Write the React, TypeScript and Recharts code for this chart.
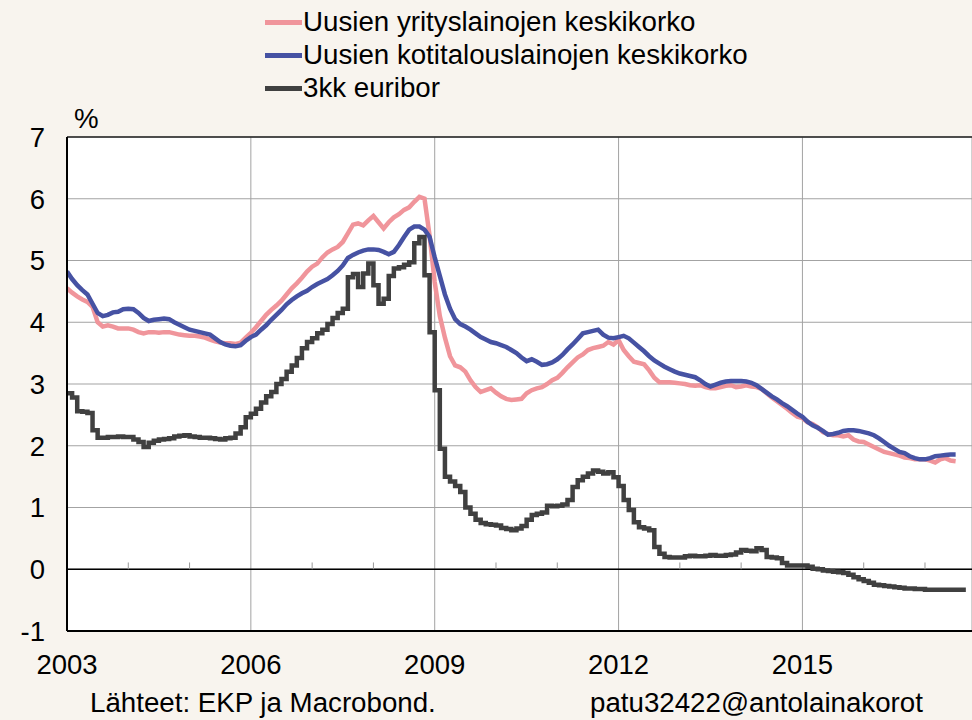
import React from 'react';
import { LineChart, Line, XAxis, YAxis, CartesianGrid, ReferenceLine } from 'recharts';

// monthly values, Jan 2003 onwards
const yritysLainat = [
  4.55, 4.48, 4.42, 4.37, 4.33, 4.25, 4.0, 3.93, 3.95, 3.93, 3.9, 3.9,
  3.9, 3.88, 3.84, 3.82, 3.84, 3.84, 3.83, 3.84, 3.84, 3.82, 3.8, 3.79,
  3.78, 3.78, 3.77, 3.75, 3.72, 3.69, 3.67, 3.66, 3.66, 3.65, 3.67, 3.75,
  3.83, 3.92, 4.02, 4.12, 4.2, 4.27, 4.35, 4.45, 4.55, 4.63, 4.72, 4.82,
  4.9, 4.95, 5.05, 5.13, 5.18, 5.22, 5.3, 5.44, 5.58, 5.6, 5.57, 5.65,
  5.72, 5.62, 5.52, 5.62, 5.7, 5.75, 5.82, 5.86, 5.95, 6.03, 6.0, 5.4,
  4.65, 4.1, 3.75, 3.45, 3.3, 3.27, 3.2, 3.06, 2.95, 2.87, 2.9, 2.93,
  2.86, 2.8, 2.76, 2.74, 2.75, 2.76, 2.85, 2.9, 2.93, 2.95, 3.0, 3.06,
  3.1, 3.18, 3.27, 3.35, 3.43, 3.48, 3.55, 3.58, 3.6, 3.62, 3.68, 3.64,
  3.71, 3.55, 3.45, 3.36, 3.34, 3.32, 3.22, 3.1, 3.03, 3.03, 3.03, 3.02,
  3.01, 3.0, 2.98, 2.97, 2.98, 2.95, 2.93, 2.93, 2.95, 2.97, 2.98, 2.95,
  2.96, 2.98, 2.96, 2.95, 2.92, 2.85, 2.78, 2.72, 2.66, 2.6, 2.53, 2.47,
  2.45, 2.38, 2.35, 2.3, 2.22, 2.19, 2.17, 2.17, 2.15, 2.17, 2.1, 2.07,
  2.06, 2.02, 1.98, 1.94, 1.9, 1.88, 1.86, 1.84, 1.81, 1.8, 1.78, 1.78,
  1.78, 1.76, 1.73, 1.78, 1.8, 1.76, 1.75,
];

const kotitalousLainat = [
  4.82, 4.7, 4.6, 4.52, 4.45, 4.3, 4.15, 4.1, 4.12, 4.16, 4.17, 4.21,
  4.22, 4.21, 4.15, 4.07, 4.02, 4.04, 4.05, 4.06, 4.05, 4.0, 3.96, 3.92,
  3.88, 3.86, 3.84, 3.82, 3.8, 3.74, 3.68, 3.64, 3.62, 3.61, 3.63, 3.7,
  3.76, 3.8, 3.88, 3.95, 4.04, 4.12, 4.2, 4.29, 4.36, 4.42, 4.47, 4.51,
  4.57, 4.62, 4.66, 4.7, 4.76, 4.83, 4.92, 5.04, 5.09, 5.13, 5.16, 5.18,
  5.18, 5.17, 5.14, 5.1, 5.14, 5.25, 5.38, 5.5, 5.55, 5.55, 5.5, 5.38,
  5.05, 4.75, 4.45, 4.22, 4.05, 3.97, 3.93, 3.88, 3.82, 3.76, 3.72, 3.68,
  3.66, 3.63, 3.6, 3.55, 3.5, 3.43, 3.37, 3.4, 3.36, 3.31, 3.32, 3.35,
  3.4, 3.47, 3.56, 3.64, 3.73, 3.82, 3.84, 3.86, 3.88, 3.8, 3.75, 3.74,
  3.76, 3.78, 3.74, 3.67, 3.6, 3.53, 3.45, 3.38, 3.33, 3.28, 3.24, 3.2,
  3.17, 3.15, 3.13, 3.11, 3.06, 3.0, 2.96, 2.99, 3.02, 3.04, 3.05, 3.05,
  3.05, 3.04, 3.02, 2.98, 2.92, 2.86, 2.8, 2.75, 2.69, 2.64, 2.58, 2.52,
  2.47, 2.39, 2.33, 2.29, 2.24, 2.18, 2.19, 2.21, 2.24, 2.25, 2.25, 2.24,
  2.22, 2.2, 2.17, 2.12, 2.06, 2.0, 1.95, 1.9, 1.88, 1.83, 1.8, 1.78,
  1.78, 1.8, 1.83, 1.84, 1.85, 1.86, 1.86,
];

const euribor3kk = [
  2.85, 2.78, 2.56, 2.55, 2.53, 2.25, 2.13, 2.13, 2.14, 2.14, 2.15, 2.14,
  2.14, 2.1, 2.06, 1.98, 2.05, 2.08, 2.1, 2.11, 2.12, 2.15, 2.16, 2.17,
  2.15, 2.14, 2.13, 2.13, 2.12, 2.11, 2.1, 2.12, 2.13, 2.2, 2.3, 2.46,
  2.52, 2.6, 2.7, 2.8, 2.87, 3.0, 3.08, 3.2, 3.3, 3.42, 3.58, 3.68,
  3.74, 3.82, 3.88, 3.97, 4.07, 4.15, 4.22, 4.73, 4.78, 4.57, 4.79, 4.95,
  4.6, 4.3, 4.38, 4.75, 4.87, 4.89, 4.93, 4.97, 5.28, 5.38, 4.76, 3.84,
  2.9, 1.95, 1.5, 1.42, 1.35, 1.25, 1.0, 0.9, 0.8, 0.75, 0.73, 0.72,
  0.71, 0.67, 0.65, 0.63, 0.66, 0.7, 0.8, 0.88, 0.9, 0.92, 1.03, 1.02,
  1.03, 1.05, 1.12, 1.33, 1.44, 1.5, 1.55, 1.6, 1.58, 1.55, 1.57, 1.49,
  1.35, 1.12, 0.96, 0.76, 0.68, 0.66, 0.63, 0.36, 0.25, 0.2, 0.19, 0.19,
  0.19, 0.21, 0.22, 0.21, 0.21, 0.22, 0.23, 0.22, 0.22, 0.23, 0.24, 0.27,
  0.31, 0.3, 0.29, 0.34, 0.31, 0.2, 0.19, 0.18, 0.1, 0.06, 0.06, 0.06,
  0.06, 0.04, 0.01, 0.0, -0.02, -0.03, -0.04, -0.05, -0.06, -0.09, -0.13, -0.16,
  -0.19, -0.22, -0.25, -0.26, -0.27, -0.28, -0.29, -0.3, -0.31, -0.31, -0.32, -0.32,
  -0.33, -0.33, -0.33, -0.33, -0.33, -0.33, -0.33, -0.33, -0.33,
];

const yearTicks = [2003, 2006, 2009, 2012, 2015];
const minorYears = [2004, 2005, 2007, 2008, 2010, 2011, 2013, 2014, 2016, 2017];
const yTicks = [-1, 0, 1, 2, 3, 4, 5, 6, 7];

const seriesNames = {
  yritys: 'Uusien yrityslainojen keskikorko',
  koti: 'Uusien kotitalouslainojen keskikorko',
  euribor: '3kk euribor',
};

const colors = { yritys: '#f0959b', koti: '#4652a3', euribor: '#404040' };

const data = euribor3kk.map((e, i) => ({
  x: 2003 + i / 12,
  yritys: i < yritysLainat.length ? yritysLainat[i] : null,
  koti: i < kotitalousLainat.length ? kotitalousLainat[i] : null,
  euribor: e,
}));

const font = '"Liberation Sans", Arial, sans-serif';
const textStyle: React.CSSProperties = {
  position: 'absolute',
  fontFamily: font,
  fontSize: 27.7,
  lineHeight: '27px',
  color: '#000',
  whiteSpace: 'nowrap',
};

const legendRows = [
  { key: 'yritys', top: 8 },
  { key: 'koti', top: 41 },
  { key: 'euribor', top: 74 },
] as const;

export default function App() {
  return (
    <div style={{ position: 'absolute', left: 0, top: 0, width: 972, height: 720, background: '#f8f4ee', overflow: 'hidden' }}>
      {legendRows.map((r) => (
        <React.Fragment key={r.key}>
          <div style={{ position: 'absolute', left: 265, top: r.top + 12, width: 37, height: 5, background: colors[r.key] }} />
          <div style={{ ...textStyle, left: 303, top: r.top }}>{seriesNames[r.key]}</div>
        </React.Fragment>
      ))}
      <div style={{ ...textStyle, left: 74, top: 105 }}>%</div>

      <div style={{ position: 'absolute', left: 0, top: 0 }}>
        <LineChart width={972} height={720} data={data} margin={{ top: 137, right: 0, left: 0, bottom: 0 }}>
          <CartesianGrid stroke="#a3a3a3" strokeWidth={1} fill="#ffffff" />
          <XAxis
            type="number"
            dataKey="x"
            domain={[2003, 2017.767]}
            ticks={yearTicks}
            interval={0}
            allowDataOverflow
            height={89}
            axisLine={{ stroke: '#000', strokeWidth: 2 }}
            tickLine={false}
            tickSize={0}
            tickMargin={23}
            tick={{ fontSize: 27.5, fill: '#000', fontFamily: font }}
          />
          <YAxis
            type="number"
            domain={[-1, 7]}
            ticks={yTicks}
            interval={0}
            width={67}
            axisLine={{ stroke: '#000', strokeWidth: 2 }}
            tickLine={false}
            tickSize={0}
            tickMargin={22}
            tick={{ fontSize: 27.5, fill: '#000', fontFamily: font }}
          />
          <ReferenceLine y={7} stroke="#222" strokeWidth={1.5} />
          <ReferenceLine y={0} stroke="#000" strokeWidth={1.5} />
          {minorYears.map((yr) => (
            <ReferenceLine key={yr} segment={[{ x: yr, y: 0 }, { x: yr, y: 0.11 }]} stroke="#999" strokeWidth={1} />
          ))}
          <Line
            type="linear"
            dataKey="yritys"
            stroke={colors.yritys}
            strokeWidth={4.5}
            dot={false}
            connectNulls={false}
            isAnimationActive={false}
          />
          <Line
            type="linear"
            dataKey="koti"
            stroke={colors.koti}
            strokeWidth={4.5}
            dot={false}
            connectNulls={false}
            isAnimationActive={false}
          />
          <Line
            type="stepAfter"
            dataKey="euribor"
            stroke={colors.euribor}
            strokeWidth={4.5}
            dot={false}
            isAnimationActive={false}
          />
        </LineChart>
      </div>

      <div style={{ ...textStyle, left: 90, top: 689 }}>Lähteet: EKP ja Macrobond.</div>
      <div style={{ ...textStyle, left: 590, top: 689 }}>patu32422@antolainakorot</div>
    </div>
  );
}
